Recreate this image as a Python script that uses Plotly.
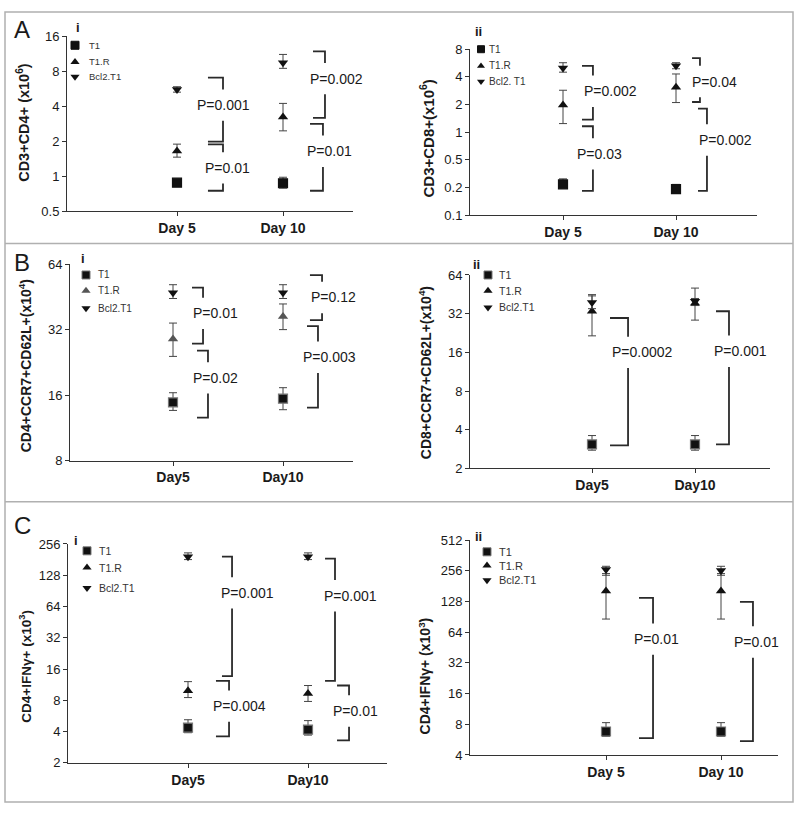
import math
import plotly.graph_objects as go

# ------------------------------------------------------------------ data
x_days = [1, 2]
groups = ["T1", "T1.R", "Bcl2.T1"]

# Panel A-i : CD3+CD4+ (x10^6)
A1_t1, A1_t1_hi, A1_t1_lo = [0.88, 0.87], [0.93, 0.98], [0.84, 0.79]
A1_t1r, A1_t1r_hi, A1_t1r_lo = [1.65, 3.23], [1.89, 4.24], [1.46, 2.46]
A1_bcl, A1_bcl_hi, A1_bcl_lo = [5.6, 9.5], [5.9, 11.2], [5.3, 8.5]
A1_ticks = [0.5, 1, 2, 4, 8, 16]
A1_ticktext = ["0.5", "1", "2", "4", "8", "16"]
A1_days = ["Day 5", "Day 10"]
A1_p_top = [7.06, 1.88, 11.9, 2.83]
A1_p_bot = [1.99, 0.75, 3.18, 0.75]
A1_p_lab = [4.1, 1.18, 6.93, 1.64]
A1_p_txt = ["P=0.001", "P=0.01", "P=0.002", "P=0.01"]

# Panel A-ii : CD3+CD8+ (x10^6)
A2_t1, A2_t1_hi, A2_t1_lo = [0.27, 0.24], [0.31, 0.27], [0.25, 0.22]
A2_t1r, A2_t1r_hi, A2_t1r_lo = [1.98, 3.08], [2.86, 4.3], [1.24, 2.1]
A2_bcl, A2_bcl_hi, A2_bcl_lo = [5.0, 5.3], [5.7, 5.7], [4.5, 4.9]
A2_ticks = [0.125, 0.25, 0.5, 1, 2, 4, 8]
A2_ticktext = ["0.1", "0.2", "0.5", "1", "2", "4", "8"]
A2_days = ["Day 5", "Day 10"]
A2_p_top = [5.28, 1.16, 6.4, 1.8]
A2_p_bot = [1.37, 0.23, 2.13, 0.23]
A2_p_lab = [2.79, 0.58, 3.56, 0.82]
A2_p_txt = ["P=0.002", "P=0.03", "P=0.04", "P=0.002"]

# Panel B-i : CD4+CCR7+CD62L+ (x10^4)
B1_t1, B1_t1_hi, B1_t1_lo = [14.8, 15.4], [16.4, 17.3], [13.6, 13.7]
B1_t1r, B1_t1r_hi, B1_t1r_lo = [29.0, 36.8], [34.3, 42.0], [24.1, 32.0]
B1_bcl, B1_bcl_hi, B1_bcl_lo = [47.3, 47.3], [51.5, 51.5], [44.5, 44.5]
B1_ticks = [8, 16, 32, 64]
B1_ticktext = ["8", "16", "32", "64"]
B1_days = ["Day5", "Day10"]
B1_p_top = [49.9, 25.6, 57.0, 33.2]
B1_p_bot = [27.6, 12.6, 35.4, 14.0]
B1_p_lab = [38.0, 19.2, 45.0, 23.9]
B1_p_txt = ["P=0.01", "P=0.02", "P=0.12", "P=0.003"]

# Panel B-ii : CD8+CCR7+CD62L+ (x10^4)
B2_t1, B2_t1_hi, B2_t1_lo = [3.07, 3.07], [3.6, 3.6], [2.77, 2.77]
B2_t1r, B2_t1r_hi, B2_t1r_lo = [33.4, 38.5], [45.0, 50.6], [21.5, 28.5]
B2_bcl, B2_bcl_hi, B2_bcl_lo = [39.0, 40.0], [44.0, 42.0], [35.0, 37.0]
B2_ticks = [2, 4, 8, 16, 32, 64]
B2_ticktext = ["2", "4", "8", "16", "32", "64"]
B2_days = ["Day5", "Day10"]
B2_p_top = [29.6, 33.4]
B2_p_bot = [3.02, 3.07]
B2_p_lab = [16.0, 16.3]
B2_p_txt = ["P=0.0002", "P=0.001"]

# Panel C-i : CD4+IFNγ+ (x10^3)
C1_t1, C1_t1_hi, C1_t1_lo = [4.36, 4.17], [5.2, 5.1], [3.9, 3.7]
C1_t1r, C1_t1r_hi, C1_t1r_lo = [9.9, 9.3], [12.1, 11.1], [8.5, 7.8]
C1_bcl, C1_bcl_hi, C1_bcl_lo = [193, 193], [210, 210], [181, 181]
C1_ticks = [2, 4, 8, 16, 32, 64, 128, 256]
C1_ticktext = ["2", "4", "8", "16", "32", "64", "128", "256"]
C1_days = ["Day5", "Day10"]
C1_p_top = [193, 12.3, 185, 11.1]
C1_p_bot = [13.7, 3.59, 12.3, 3.29]
C1_p_lab = [86.6, 7.03, 81.2, 6.3]
C1_p_txt = ["P=0.001", "P=0.004", "P=0.001", "P=0.01"]

# Panel C-ii : CD4+IFNγ+ (x10^3)
C2_t1, C2_t1_hi, C2_t1_lo = [6.8, 6.8], [8.3, 8.3], [6.1, 6.1]
C2_t1r, C2_t1r_hi, C2_t1r_lo = [162, 162], [240, 240], [86, 86]
C2_bcl, C2_bcl_hi, C2_bcl_lo = [263, 257], [283, 283], [231, 231]
C2_ticks = [4, 8, 16, 32, 64, 128, 256, 512]
C2_ticktext = ["4", "8", "16", "32", "64", "128", "256", "512"]
C2_days = ["Day 5", "Day 10"]
C2_p_top = [138.6, 127]
C2_p_bot = [5.85, 5.46]
C2_p_lab = [54.7, 51.2]
C2_p_txt = ["P=0.01", "P=0.01"]

# ------------------------------------------------------------------ layout / style
W, H = 800, 816
FONT = "Liberation Sans, Arial, Helvetica, sans-serif"
INK = "#1a1a1a"


def pxx(x):
    return x / W


def pxy(y):
    return 1 - y / H


panels = [
    dict(series=[(A1_t1, A1_t1_hi, A1_t1_lo), (A1_t1r, A1_t1r_hi, A1_t1r_lo), (A1_bcl, A1_bcl_hi, A1_bcl_lo)],
         ticks=A1_ticks, ticktext=A1_ticktext, days=A1_days,
         p=(A1_p_top, A1_p_bot, A1_p_lab, A1_p_txt),
         box=(67, 353, 30, 208), dpx=(177, 283),
         bx=[(1.292, 1.434, 1.434), (1.292, 1.434, 1.481), (2.283, 2.396, 2.50), (2.255, 2.377, 2.434)],
         title="CD3+CD4+ (x10<sup>6</sup>)", tpos=(23, 118), tsize=14.5,
         tag="i", tagpos=(78, 21), leg=(75, [39, 56, 71], 87, 9.5, 8, ["T1", "T1.R", "Bcl2.T1"]),
         colors=("#111", "#111", "#111"), sqline="#111"),
    dict(series=[(A2_t1, A2_t1_hi, A2_t1_lo), (A2_t1r, A2_t1r_hi, A2_t1r_lo), (A2_bcl, A2_bcl_hi, A2_bcl_lo)],
         ticks=A2_ticks, ticktext=A2_ticktext, days=A2_days,
         p=(A2_p_top, A2_p_bot, A2_p_lab, A2_p_txt),
         box=(470, 757, 43, 212), dpx=(563, 676),
         bx=[(1.168, 1.265, 1.416), (1.168, 1.265, 1.327), (2.142, 2.212, 2.345), (2.195, 2.274, 2.434)],
         title="CD3+CD8+(x10<sup>6</sup>)", tpos=(427, 134), tsize=15,
         tag="ii", tagpos=(478, 25), leg=(481, [43, 60, 76], 487, 10, 7, ["T1", "T1.R", "Bcl2. T1"]),
         colors=("#111", "#111", "#111"), sqline="#111"),
    dict(series=[(B1_t1, B1_t1_hi, B1_t1_lo), (B1_t1r, B1_t1r_hi, B1_t1r_lo), (B1_bcl, B1_bcl_hi, B1_bcl_lo)],
         ticks=B1_ticks, ticktext=B1_ticktext, days=B1_days,
         p=(B1_p_top, B1_p_bot, B1_p_lab, B1_p_txt),
         box=(70, 353, 262, 462), dpx=(173, 283),
         bx=[(1.173, 1.273, 1.382), (1.218, 1.318, 1.382), (2.245, 2.355, 2.455), (2.218, 2.318, 2.427)],
         title="CD4+CCR7+CD62L+(x10<sup>4</sup>)", tpos=(25, 366), tsize=14,
         tag="i", tagpos=(83, 256), leg=(86, [273, 289, 307], 96, 10, 8, ["T1", "T1.R", "Bcl2.T1"]),
         colors=("#111", "#555", "#111"), sqline="#777"),
    dict(series=[(B2_t1, B2_t1_hi, B2_t1_lo), (B2_t1r, B2_t1r_hi, B2_t1r_lo), (B2_bcl, B2_bcl_hi, B2_bcl_lo)],
         ticks=B2_ticks, ticktext=B2_ticktext, days=B2_days,
         p=(B2_p_top, B2_p_bot, B2_p_lab, B2_p_txt),
         box=(470, 770, 273, 470), dpx=(592, 695),
         bx=[(1.175, 1.35, 1.495), (2.204, 2.33, 2.437)],
         title="CD8+CCR7+CD62L+(x10<sup>4</sup>)", tpos=(425, 373), tsize=14,
         tag="ii", tagpos=(477, 262), leg=(488, [273, 289, 306], 497, 10.5, 8, ["T1", "T1.R", "Bcl2.T1"]),
         colors=("#111", "#111", "#111"), sqline="#777"),
    dict(series=[(C1_t1, C1_t1_hi, C1_t1_lo), (C1_t1r, C1_t1r_hi, C1_t1r_lo), (C1_bcl, C1_bcl_hi, C1_bcl_lo)],
         ticks=C1_ticks, ticktext=C1_ticktext, days=C1_days,
         p=(C1_p_top, C1_p_bot, C1_p_lab, C1_p_txt),
         box=(68, 387, 547, 770), dpx=(188, 308),
         bx=[(1.283, 1.367, 1.492), (1.233, 1.342, 1.425), (2.142, 2.225, 2.35), (2.242, 2.342, 2.392)],
         title="CD4+IFNγ+ (x10<sup>3</sup>)", tpos=(25, 672), tsize=13.5,
         tag="i", tagpos=(76, 543), leg=(87, [554, 571, 592], 97, 10.5, 8, ["T1", "T1.R", "Bcl2.T1"]),
         colors=("#111", "#111", "#111"), sqline="#777"),
    dict(series=[(C2_t1, C2_t1_hi, C2_t1_lo), (C2_t1r, C2_t1r_hi, C2_t1r_lo), (C2_bcl, C2_bcl_hi, C2_bcl_lo)],
         ticks=C2_ticks, ticktext=C2_ticktext, days=C2_days,
         p=(C2_p_top, C2_p_bot, C2_p_lab, C2_p_txt),
         box=(470, 778, 543, 762), dpx=(606, 721),
         bx=[(1.287, 1.409, 1.435), (2.165, 2.278, 2.313)],
         title="CD4+IFNγ+ (x10<sup>3</sup>)", tpos=(425, 682), tsize=14,
         tag="ii", tagpos=(478, 539), leg=(487, [555, 569, 584], 497, 11, 8, ["T1", "T1.R", "Bcl2.T1"]),
         colors=("#111", "#111", "#111"), sqline="#777"),
]

symbols = ["square", "triangle-up", "triangle-down"]
msizes = [9, 9, 9]

fig = go.Figure()
annotations = []
layout_axes = {}

for i, pn in enumerate(panels, start=1):
    sfx = "" if i == 1 else str(i)
    xa, ya = "x" + sfx, "y" + sfx
    left, right, top, bottom = pn["box"]
    d5, d10 = pn["dpx"]
    S = d10 - d5
    xr = [1 - (d5 - left) / S, 2 + (right - d10) / S]
    ymin, ymax = min(pn["ticks"]), max(pn["ticks"])
    lo10, hi10 = math.log10(ymin), math.log10(ymax)
    px_per_dec = (bottom - top) / (hi10 - lo10)

    layout_axes["xaxis" + sfx] = dict(
        domain=[pxx(left), pxx(right)], range=xr, anchor=ya,
        showgrid=False, zeroline=False, showline=True, linecolor="#333", linewidth=1,
        ticks="outside", ticklen=4, tickcolor="#333", tickvals=x_days,
        ticktext=["<b>%s</b>" % d for d in pn["days"]],
        tickfont=dict(family=FONT, size=14, color=INK), fixedrange=True)
    layout_axes["yaxis" + sfx] = dict(
        domain=[pxy(bottom), pxy(top)], type="log", range=[lo10, hi10], anchor=xa,
        showgrid=False, zeroline=False, showline=True, linecolor="#333", linewidth=1,
        ticks="outside", ticklen=4, tickcolor="#333", tickvals=pn["ticks"], ticktext=pn["ticktext"],
        tickfont=dict(family=FONT, size=13, color=INK), fixedrange=True)

    # data series
    for k, (vals, hi, lo) in enumerate(pn["series"]):
        col = pn["colors"][k]
        fig.add_trace(go.Scatter(
            x=x_days, y=vals, xaxis=xa, yaxis=ya, mode="markers", showlegend=False,
            name=groups[k],
            marker=dict(symbol=symbols[k], size=msizes[k], color=col,
                        line=dict(color=pn["sqline"] if k == 0 else col, width=1.2 if k == 0 else 0)),
            error_y=dict(type="data", symmetric=False,
                         array=[h - v for h, v in zip(hi, vals)],
                         arrayminus=[v - l for v, l in zip(vals, lo)],
                         color="#444", thickness=1, width=4),
            cliponaxis=False))

    # significance brackets
    tops, bots, labs, txts = pn["p"]
    gap = 10 ** (16 / px_per_dec)
    bxs, bys = [], []
    for (xl, xv, xt), t, b, lab, txt in zip(pn["bx"], tops, bots, labs, txts):
        g_hi, g_lo = lab * gap, lab / gap
        bxs += [xl, xv, xv, None, xv, xv, xl, None]
        bys += [t, t, max(min(g_hi, t), b), None, min(max(g_lo, b), t), b, b, None]
        annotations.append(dict(x=xt, y=math.log10(lab), xref=xa, yref=ya, text=txt, showarrow=False,
                                font=dict(family=FONT, size=14, color=INK), xanchor="center",
                                yanchor="middle"))
    fig.add_trace(go.Scatter(x=bxs, y=bys, xaxis=xa, yaxis=ya, mode="lines", showlegend=False,
                             line=dict(color="#2a2a2a", width=1.8), hoverinfo="skip",
                             cliponaxis=False))

    # y title
    tx, ty = pn["tpos"]
    annotations.append(dict(x=pxx(tx), y=pxy(ty), xref="paper", yref="paper", text="<b>%s</b>" % pn["title"],
                            textangle=-90, showarrow=False, xanchor="center", yanchor="middle",
                            font=dict(family=FONT, size=pn["tsize"], color=INK)))
    # sub-panel tag
    gx, gy = pn["tagpos"]
    annotations.append(dict(x=pxx(gx), y=pxy(gy), xref="paper", yref="paper", text="<b>%s</b>" % pn["tag"],
                            showarrow=False, xanchor="center", yanchor="middle",
                            font=dict(family=FONT, size=13, color=INK)))
    # legend (symbols on an overlay pixel axis, text as annotations)
    sx, sys_, tx0, fs, ms, labels = pn["leg"]
    for k in range(3):
        col = pn["colors"][k]
        fig.add_trace(go.Scatter(x=[sx], y=[sys_[k]], xaxis="x7", yaxis="y7", mode="markers",
                                 showlegend=False, hoverinfo="skip",
                                 marker=dict(symbol=symbols[k], size=ms, color=col,
                                             line=dict(color=pn["sqline"] if k == 0 else col,
                                                       width=1 if k == 0 else 0))))
        annotations.append(dict(x=pxx(tx0), y=pxy(sys_[k]), xref="paper", yref="paper", text=labels[k],
                                showarrow=False, xanchor="left", yanchor="middle",
                                font=dict(family=FONT, size=fs, color="#333")))

# panel letters
for letter, (lx, ly) in zip(["A", "B", "C"], [(22, 23), (22, 260), (22, 528)]):
    annotations.append(dict(x=pxx(lx), y=pxy(ly), xref="paper", yref="paper", text=letter, showarrow=False,
                            xanchor="center", yanchor="middle", font=dict(family=FONT, size=24, color=INK)))

layout_axes["xaxis7"] = dict(domain=[0, 1], range=[0, W], visible=False, fixedrange=True, anchor="y7")
layout_axes["yaxis7"] = dict(domain=[0, 1], range=[H, 0], visible=False, fixedrange=True, anchor="x7")

border = "#b0b0b0"
shapes = [
    dict(type="rect", xref="paper", yref="paper", x0=pxx(5), x1=pxx(793), y0=pxy(810), y1=pxy(5),
         line=dict(color=border, width=1.5)),
    dict(type="line", xref="paper", yref="paper", x0=pxx(5), x1=pxx(793), y0=pxy(241), y1=pxy(241),
         line=dict(color=border, width=1.5)),
    dict(type="line", xref="paper", yref="paper", x0=pxx(5), x1=pxx(793), y0=pxy(504), y1=pxy(504),
         line=dict(color=border, width=1.5)),
]

fig.update_layout(width=W, height=H, autosize=False, margin=dict(l=0, r=0, t=0, b=0),
                  paper_bgcolor="white", plot_bgcolor="rgba(0,0,0,0)", showlegend=False,
                  annotations=annotations, shapes=shapes, font=dict(family=FONT, color=INK),
                  **layout_axes)

fig.write_html("out.html", config={"displayModeBar": False},
               post_script="document.body.style.margin='0';document.body.style.overflow='hidden';")
